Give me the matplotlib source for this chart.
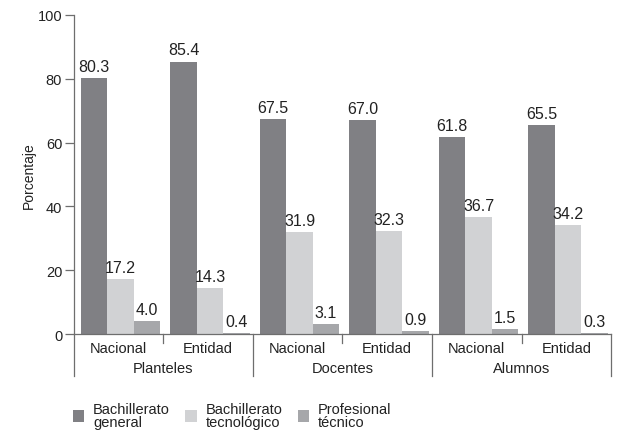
import numpy as np
import matplotlib
matplotlib.use('Agg')
from matplotlib import pyplot as plt

plt.rcParams['font.family'] = ['Liberation Sans', 'DejaVu Sans']

grupos = ['Planteles', 'Docentes', 'Alumnos']
subgrupos = ['Nacional', 'Entidad'] * 3
series = ['Bachillerato\ngeneral', 'Bachillerato\ntecnológico', 'Profesional\ntécnico']
general = [80.3, 85.4, 67.5, 67.0, 61.8, 65.5]
tecnologico = [17.2, 14.3, 31.9, 32.3, 36.7, 34.2]
profesional = [4.0, 0.4, 3.1, 0.9, 1.5, 0.3]
colores = ['#808084', '#d1d2d4', '#a6a7aa']

texto = '#222222'
linea = '#6e6e6e'

fig = plt.figure(figsize=(6.18, 4.31), dpi=100)
ax = fig.add_axes([0.1197, 0.2227, 0.869, 0.7402])

x = np.arange(len(subgrupos))
w = 0.296
for k, (vals, c, nom) in enumerate(zip([general, tecnologico, profesional], colores, series)):
    pos = x + (k - 1) * w + 0.02
    bars = ax.bar(pos, vals, w, color=c, label=nom, zorder=2)
    for b, v in zip(bars, vals):
        ax.text(b.get_x() + b.get_width() / 2, v + 1.3, f'{v:.1f}',
                ha='center', va='bottom', fontsize=11.5, color=texto)

ax.set_xlim(-0.5, len(subgrupos) - 0.5)
ax.set_ylim(0, 100)
ax.set_yticks(range(0, 101, 20))
ax.set_xticks(x)
ax.set_xticklabels(subgrupos, fontsize=10.5, color=texto)
ax.tick_params(axis='x', length=0, pad=5)
ax.tick_params(axis='y', length=6.5, width=0.9, color=linea, labelsize=10.5, labelcolor=texto, pad=2)
ax.set_ylabel('Porcentaje', fontsize=10, color=texto, labelpad=1)

for s in ['top', 'right']:
    ax.spines[s].set_visible(False)
for s in ['left', 'bottom']:
    ax.spines[s].set_color(linea)
    ax.spines[s].set_linewidth(0.9)

# lineas de agrupacion bajo el eje
tr = ax.get_xaxis_transform()
for i in range(len(subgrupos) + 1):
    xs = i - 0.5
    if i % 2 == 0:
        ax.plot([xs, xs], [0, -0.132], color=linea, lw=0.9, transform=tr, clip_on=False)
    else:
        ax.plot([xs, xs], [0, -0.028], color=linea, lw=0.9, transform=tr, clip_on=False)
for j, g in enumerate(grupos):
    ax.text(2 * j + 0.5, -0.108, g, transform=tr, ha='center', va='center',
            fontsize=10.5, color=texto)

fig.legend(loc='upper left', bbox_to_anchor=(0.108, 0.079), ncol=3, frameon=False,
           handlelength=0.8, handleheight=0.8, handletextpad=0.6,
           columnspacing=1.05, labelcolor=texto, borderaxespad=0, labelspacing=0,
           prop={'size': 10.5})
for t in fig.legends[0].get_texts():
    t.set_linespacing(0.95)

fig.savefig('out.png', dpi=100)
